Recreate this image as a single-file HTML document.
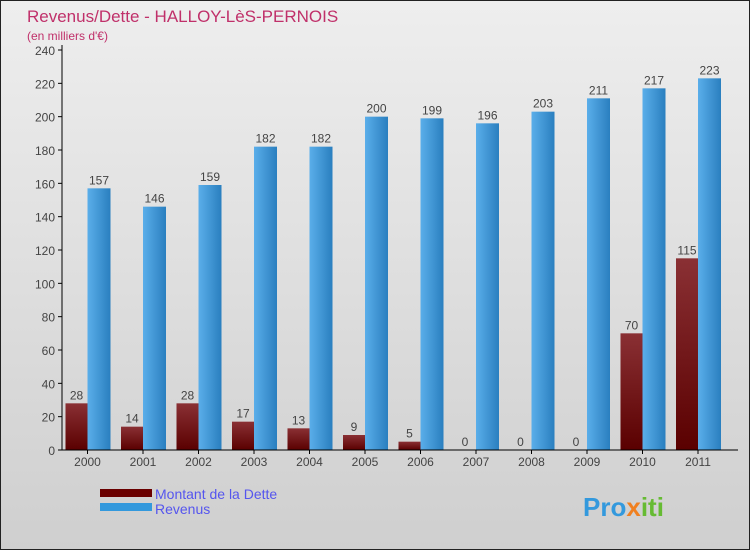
<!DOCTYPE html>
<html><head><meta charset="utf-8"><style>
body{margin:0;}
#c{width:750px;height:550px;position:relative;overflow:hidden;font-family:"Liberation Sans",sans-serif;}
</style></head><body>
<div id="c">
<svg id="s" width="750" height="550" xmlns="http://www.w3.org/2000/svg">
<defs>
<linearGradient id="bg" x1="0" y1="0" x2="0" y2="1"><stop offset="0" stop-color="#eeeeee"/><stop offset="1" stop-color="#cfcfcf"/></linearGradient>
<linearGradient id="red" x1="0" y1="0" x2="0" y2="1"><stop offset="0" stop-color="#8a3034"/><stop offset="1" stop-color="#5a0000"/></linearGradient>
<linearGradient id="blue" x1="0" y1="0" x2="1" y2="0"><stop offset="0" stop-color="#5aaeea"/><stop offset="1" stop-color="#2a7fbf"/></linearGradient>
</defs>
<rect x="0.5" y="0.5" width="749" height="549" fill="url(#bg)" stroke="#222"/>
<text x="27" y="22" font-size="17" fill="#c0306a">Revenus/Dette - HALLOY-LèS-PERNOIS</text>
<text x="27" y="40" font-size="12" fill="#c0306a">(en milliers d'€)</text>
<g id="plot"></g>
<rect x="100" y="489" width="52" height="8" fill="#6a0000"/>
<rect x="100" y="503" width="52" height="8" fill="#3399dd"/>
<text x="155" y="499" font-size="14" fill="#5555ee">Montant de la Dette</text>
<text x="155" y="514" font-size="14" fill="#5555ee">Revenus</text>
<text x="583" y="516" font-size="26" font-weight="bold" fill="#3399dd">Pro<tspan fill="#f08020">x</tspan><tspan fill="#66bb33">iti</tspan></text>
</svg>
</div>
<script>
const years=["2000","2001","2002","2003","2004","2005","2006","2007","2008","2009","2010","2011"];
const dette=[28,14,28,17,13,9,5,0,0,0,70,115];
const revenus=[157,146,159,182,182,200,199,196,203,211,217,223];
const yTicks=[0,20,40,60,80,100,120,140,160,180,200,220,240];
const NS="http://www.w3.org/2000/svg";
const g=document.getElementById('plot');
const y0=450,yPer=400/240,x0=62,step=55.5;
const Y=v=>y0-v*yPer;
const X=i=>x0+25.5+i*step;
function el(t,a,txt){const e=document.createElementNS(NS,t);for(const k in a)e.setAttribute(k,a[k]);if(txt!==undefined)e.textContent=txt;g.appendChild(e);return e;}
yTicks.forEach(t=>{
 const l=el('line',{x1:58,x2:62,y1:Y(t),y2:Y(t),stroke:'#000'});
 
 
 const tx=el('text',{x:55,y:Y(t)+5,'font-size':12,fill:'#444','text-anchor':'end'},t);
 
 
});
years.forEach((yr,i)=>{
 const cx=X(i);
 const r=el('rect',{x:cx-22,y:Y(dette[i]),width:22,height:dette[i]*yPer,fill:'url(#red)'});
 
 
 const b=el('rect',{x:cx,y:Y(revenus[i]),width:23,height:revenus[i]*yPer,fill:'url(#blue)'});
 
 
 const t1=el('text',{x:cx-11,y:Y(dette[i])-4,'font-size':12,fill:'#444','text-anchor':'middle'},dette[i]);
 
 
 const t2=el('text',{x:cx+11.5,y:Y(revenus[i])-4,'font-size':12,fill:'#444','text-anchor':'middle'},revenus[i]);
 
 
 const tk=el('line',{x1:cx,x2:cx,y1:450,y2:454,stroke:'#000'});
 
 
 const xl=el('text',{x:cx,y:466,'font-size':12,fill:'#444','text-anchor':'middle'},yr);
 
 
});
const ax=el('line',{x1:62,x2:62,y1:45,y2:450,stroke:'#000'});


const bx=el('line',{x1:58,x2:738,y1:450,y2:450,stroke:'#000'});


</script>
</body></html>
